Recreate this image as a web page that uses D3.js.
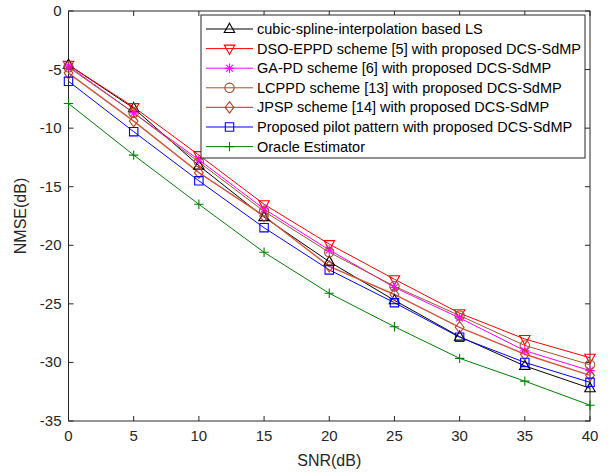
<!DOCTYPE html>
<html><head><meta charset="utf-8">
<script src="https://cdn.jsdelivr.net/npm/d3@7"></script>
<style>body{margin:0;background:#fff}svg{display:block}text{font-family:"Liberation Sans",Arial,sans-serif}</style>
</head><body><svg id="c" width="611" height="472"></svg>
<script>
const snr = [0,5,10,15,20,25,30,35,40];
const xTicks = [0,5,10,15,20,25,30,35,40];
const yTicks = [0,-5,-10,-15,-20,-25,-30,-35];
const seriesNames = ["cubic-spline-interpolation based LS","DSO-EPPD scheme [5] with proposed DCS-SdMP","GA-PD scheme [6] with proposed DCS-SdMP","LCPPD scheme [13] with proposed DCS-SdMP","JPSP scheme [14] with proposed DCS-SdMP","Proposed pilot pattern with proposed DCS-SdMP","Oracle Estimator"];
const lsVals     = [-4.6,-8.3,-13.2,-17.6,-21.4,-24.7,-27.8,-30.3,-32.2];
const dsoVals    = [-4.6,-8.2,-12.3,-16.5,-19.9,-22.9,-25.8,-28.0,-29.6];
const gapdVals   = [-4.7,-8.7,-12.7,-16.9,-20.4,-23.6,-26.2,-29.0,-30.7];
const lcppdVals  = [-4.8,-8.7,-12.9,-17.1,-20.6,-23.5,-26.0,-28.55,-30.2];
const jpspVals   = [-5.3,-9.4,-13.8,-17.5,-21.8,-24.2,-27.0,-29.3,-31.1];
const propVals   = [-6.0,-10.3,-14.5,-18.5,-22.1,-24.9,-27.85,-30.0,-31.7];
const oracleVals = [-7.9,-12.3,-16.5,-20.6,-24.1,-26.95,-29.65,-31.6,-33.65];

const styles = [
  {c:"#000000", m:"triUp"},
  {c:"#ff0000", m:"triDown"},
  {c:"#ff00ff", m:"star"},
  {c:"#a0522d", m:"circle"},
  {c:"#d0563c", m:"diamond", mc:"#c83a22", w:1.4},
  {c:"#0000ff", m:"square"},
  {c:"#008000", m:"plus"}
];
const allVals = [lsVals,dsoVals,gapdVals,lcppdVals,jpspVals,propVals,oracleVals];

const svg = d3.select("#c");
const L=68.5, R=590, T=11, B=421;
const x = d3.scaleLinear().domain([0,40]).range([L,R]);
const y = d3.scaleLinear().domain([-35,0]).range([B,T]);

function marker(g, type, cx, cy, color){
  const s = g.append("path").attr("fill","none").attr("stroke",color).attr("stroke-width",1.1);
  let d="";
  if(type==="triUp"){const r=5.8;d=`M${cx},${cy-r}L${cx+r*0.9},${cy+r*0.6}L${cx-r*0.9},${cy+r*0.6}Z`;}
  else if(type==="triDown"){const r=5.8;d=`M${cx},${cy+r}L${cx+r*0.9},${cy-r*0.6}L${cx-r*0.9},${cy-r*0.6}Z`;}
  else if(type==="circle"){const r=4.7;d=`M${cx-r},${cy}a${r},${r} 0 1,0 ${2*r},0a${r},${r} 0 1,0 ${-2*r},0Z`;}
  else if(type==="diamond"){const r=5.8;d=`M${cx},${cy-r}L${cx+r*0.75},${cy}L${cx},${cy+r}L${cx-r*0.75},${cy}Z`;}
  else if(type==="square"){const r=4.2;d=`M${cx-r},${cy-r}h${2*r}v${2*r}h${-2*r}Z`;}
  else if(type==="plus"){const r=4.7;d=`M${cx-r},${cy}h${2*r}M${cx},${cy-r}v${2*r}`;}
  else if(type==="star"){const r=4.7,q=r*0.72;d=`M${cx-r},${cy}h${2*r}M${cx},${cy-r}v${2*r}M${cx-q},${cy-q}L${cx+q},${cy+q}M${cx-q},${cy+q}L${cx+q},${cy-q}`;}
  s.attr("d",d);
}

// axes box with inward ticks
const ax = svg.append("g");
ax.append("rect").attr("x",L).attr("y",T).attr("width",R-L).attr("height",B-T).attr("fill","none").attr("stroke","#262626").attr("stroke-width",1);
const tl=5;
xTicks.forEach(v=>{
  ax.append("line").attr("x1",x(v)).attr("x2",x(v)).attr("y1",B).attr("y2",B-tl).attr("stroke","#262626");
  ax.append("line").attr("x1",x(v)).attr("x2",x(v)).attr("y1",T).attr("y2",T+tl).attr("stroke","#262626");
  ax.append("text").attr("x",x(v)).attr("y",B+20).attr("text-anchor","middle").attr("font-size",15).attr("fill","#262626").text(v);
});
yTicks.forEach(v=>{
  ax.append("line").attr("x1",L).attr("x2",L+tl).attr("y1",y(v)).attr("y2",y(v)).attr("stroke","#262626");
  ax.append("line").attr("x1",R).attr("x2",R-tl).attr("y1",y(v)).attr("y2",y(v)).attr("stroke","#262626");
  ax.append("text").attr("x",L-7).attr("y",y(v)+5).attr("text-anchor","end").attr("font-size",15).attr("fill","#262626").text(v);
});
ax.append("text").attr("x",(L+R)/2).attr("y",466).attr("text-anchor","middle").attr("font-size",16).attr("fill","#262626").text("SNR(dB)");
ax.append("text").attr("transform",`translate(26,${(T+B)/2}) rotate(-90)`).attr("text-anchor","middle").attr("font-size",16).attr("fill","#262626").text("NMSE(dB)");

// series
const line = d3.line().x((d,i)=>x(snr[i])).y(d=>y(d));
const plot = svg.append("g");
allVals.forEach((vals,k)=>{
  const st=styles[k];
  plot.append("path").attr("d",line(vals)).attr("fill","none").attr("stroke",st.c).attr("stroke-width",st.w||1);
});
allVals.forEach((vals,k)=>{
  const st=styles[k];
  vals.forEach((v,i)=>marker(plot,st.m,x(snr[i]),y(v),st.mc||st.c));
});

// legend
const lg = svg.append("g");
const lx0=201, ly0=15, lw=384, lh=143;
lg.append("rect").attr("x",lx0).attr("y",ly0).attr("width",lw).attr("height",lh).attr("fill","#fff").attr("stroke","#262626").attr("stroke-width",1);
seriesNames.forEach((n,k)=>{
  const st=styles[k];
  const cy = 29 + k*19.6;
  lg.append("line").attr("x1",206).attr("x2",253).attr("y1",cy).attr("y2",cy).attr("stroke",st.c).attr("stroke-width",st.w||1);
  marker(lg,st.m,229.5,cy,st.mc||st.c);
  lg.append("text").attr("x",257).attr("y",cy+5).attr("font-size",14.5).attr("fill","#000").text(n);
});
</script></body></html>
